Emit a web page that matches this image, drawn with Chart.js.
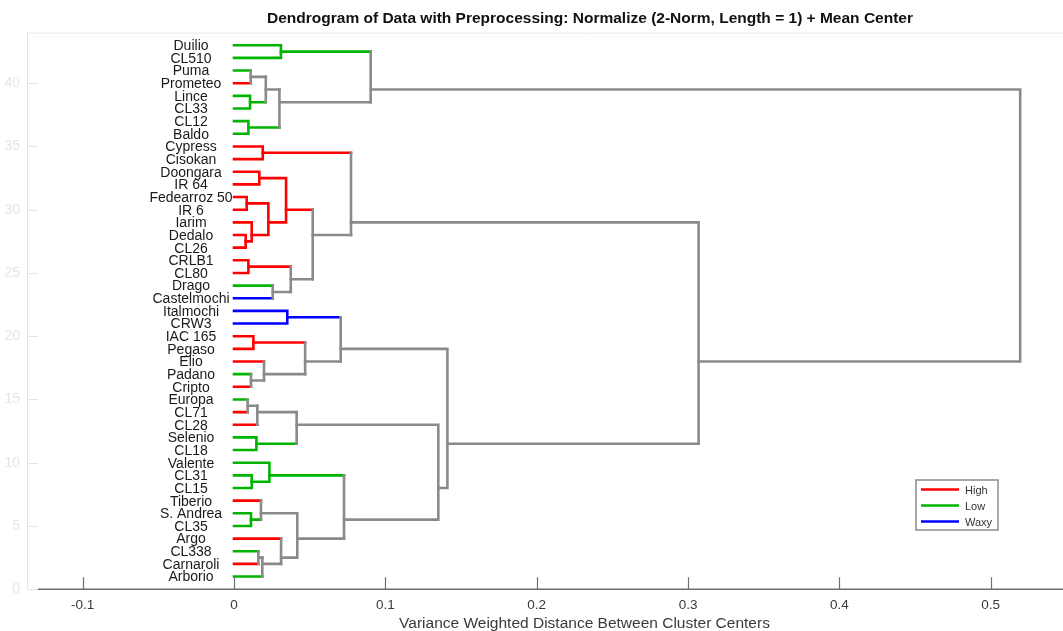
<!DOCTYPE html>
<html>
<head>
<meta charset="utf-8">
<script src="https://cdn.jsdelivr.net/npm/chart.js@4/dist/chart.umd.min.js"></script>
<style>
  html, body { margin: 0; padding: 0; overflow: hidden; background: #fff; width: 1063px; height: 631px; }
  #wrap { position: absolute; left: -13px; top: 0; width: 1206px; height: 631px; }
</style>
</head>
<body>
<div id="wrap"><canvas id="c" width="1206" height="631"></canvas></div>
<script>
// Leaf order, top to bottom
const leafNames = [
  'Duilio', 'CL510', 'Puma', 'Prometeo', 'Lince', 'CL33', 'CL12', 'Baldo',
  'Cypress', 'Cisokan', 'Doongara', 'IR 64', 'Fedearroz 50', 'IR 6', 'Iarim',
  'Dedalo', 'CL26', 'CRLB1', 'CL80', 'Drago', 'Castelmochi', 'Italmochi', 'CRW3',
  'IAC 165', 'Pegaso', 'Elio', 'Padano', 'Cripto', 'Europa', 'CL71', 'CL28',
  'Selenio', 'CL18', 'Valente', 'CL31', 'CL15', 'Tiberio', 'S. Andrea', 'CL35',
  'Argo', 'CL338', 'Carnaroli', 'Arborio'
];
const leafClass = [
  'Low', 'Low', 'Low', 'High', 'Low', 'Low', 'Low', 'Low',
  'High', 'High', 'High', 'High', 'High', 'High', 'High',
  'High', 'High', 'High', 'High', 'Low', 'Waxy', 'Waxy', 'Waxy',
  'High', 'High', 'High', 'Low', 'High', 'Low', 'High', 'High',
  'Low', 'Low', 'Low', 'Low', 'Low', 'High', 'Low', 'Low',
  'High', 'Low', 'High', 'Low'
];
const classNames = ['High', 'Low', 'Waxy'];
const classColors = ['rgb(255,0,0)', 'rgb(0,180,0)', 'rgb(0,0,255)'];
const mixedColor = 'rgb(138,138,138)';

// Linkage: [child A, child B, distance]; a string is a leaf, a number is an earlier merge
const merges = [
  ['Duilio', 'CL510', 0.031],       // 0
  ['Puma', 'Prometeo', 0.011],      // 1
  ['Lince', 'CL33', 0.0106],        // 2
  [1, 2, 0.021],                    // 3
  ['CL12', 'Baldo', 0.0095],        // 4
  [3, 4, 0.030],                    // 5
  [0, 5, 0.0903],                   // 6
  ['Cypress', 'Cisokan', 0.019],    // 7
  ['Doongara', 'IR 64', 0.0167],    // 8
  ['Fedearroz 50', 'IR 6', 0.0084], // 9
  ['Dedalo', 'CL26', 0.0077],       // 10
  ['Iarim', 10, 0.0117],            // 11
  [9, 11, 0.0227],                  // 12
  [8, 12, 0.0344],                  // 13
  ['CRLB1', 'CL80', 0.0095],        // 14
  ['Drago', 'Castelmochi', 0.0256], // 15
  [14, 15, 0.0375],                 // 16
  [13, 16, 0.052],                  // 17
  [7, 17, 0.0773],                  // 18
  ['Italmochi', 'CRW3', 0.0352],    // 19
  ['IAC 165', 'Pegaso', 0.0128],    // 20
  ['Padano', 'Cripto', 0.0112],     // 21
  ['Elio', 21, 0.0198],             // 22
  [20, 22, 0.047],                  // 23
  [19, 23, 0.0705],                 // 24
  ['Europa', 'CL71', 0.009],        // 25
  [25, 'CL28', 0.0154],             // 26
  ['Selenio', 'CL18', 0.0148],      // 27
  [26, 27, 0.0414],                 // 28
  ['CL31', 'CL15', 0.0117],         // 29
  ['Valente', 29, 0.0234],          // 30
  ['S. Andrea', 'CL35', 0.0112],    // 31
  ['Tiberio', 31, 0.0178],          // 32
  ['CL338', 'Carnaroli', 0.0161],   // 33
  [33, 'Arborio', 0.0187],          // 34
  ['Argo', 34, 0.0311],             // 35
  [32, 35, 0.0418],                 // 36
  [30, 36, 0.0727],                 // 37
  [28, 37, 0.135],                  // 38
  [24, 38, 0.141],                  // 39
  [18, 39, 0.307],                  // 40
  [6, 40, 0.5195]                   // 41
];

const xTickValues = [-0.1, 0, 0.1, 0.2, 0.3, 0.4, 0.5, 0.6];
const yTickValues = [0, 5, 10, 15, 20, 25, 30, 35, 40];

// ---- build tree geometry in data units ----
const n = leafNames.length;
const nodeY = [], nodeH = [], nodeCls = [], nodeLeafYs = [];
leafNames.forEach((name, i) => {
  nodeY[i] = n - i;
  nodeH[i] = 0;
  nodeCls[i] = leafClass[i];
  nodeLeafYs[i] = [n - i];
});
const ref = r => (typeof r === 'string' ? leafNames.indexOf(r) : n + r);
const colorOf = id => (nodeCls[id] ? classColors[classNames.indexOf(nodeCls[id])] : mixedColor);

const segments = [];
merges.forEach(([a, b, h], k) => {
  const ia = ref(a), ib = ref(b), id = n + k;
  const ys = nodeLeafYs[ia].concat(nodeLeafYs[ib]);
  nodeLeafYs[id] = ys;
  nodeY[id] = ys.reduce((s, v) => s + v, 0) / ys.length;
  nodeH[id] = h;
  nodeCls[id] = nodeCls[ia] === nodeCls[ib] ? nodeCls[ia] : null;
  const ca = colorOf(ia), cb = colorOf(ib), cp = colorOf(id);
  if (ca === cp && cb === cp) {
    segments.push({ color: cp, pts: [
      { x: nodeH[ia], y: nodeY[ia] }, { x: h, y: nodeY[ia] },
      { x: h, y: nodeY[ib] }, { x: nodeH[ib], y: nodeY[ib] }] });
  } else {
    segments.push({ color: cp, pts: [{ x: h, y: nodeY[ia] }, { x: h, y: nodeY[ib] }] });
    segments.push({ color: ca, pts: [{ x: nodeH[ia], y: nodeY[ia] }, { x: h, y: nodeY[ia] }] });
    segments.push({ color: cb, pts: [{ x: nodeH[ib], y: nodeY[ib] }, { x: h, y: nodeY[ib] }] });
  }
});

const datasets = segments.map(s => ({
  data: s.pts,
  showLine: true,
  borderColor: s.color,
  borderWidth: 2.6,
  borderCapStyle: 'square',
  borderJoinStyle: 'miter',
  pointRadius: 0,
  fill: false,
  tension: 0
}));

const FONT = '"Liberation Sans", Arial, sans-serif';
const faint = 'rgb(222,232,236)';

// axis decoration, leaf labels and class legend
const decor = {
  id: 'decor',
  afterDatasetsDraw(chart) {
    const { ctx, chartArea: ca, scales: { x, y } } = chart;
    ctx.save();
    // faint frame pieces
    ctx.strokeStyle = faint;
    ctx.lineWidth = 1;
    ctx.beginPath();
    ctx.moveTo(ca.left, ca.top + 0.5); ctx.lineTo(ca.right, ca.top + 0.5);
    ctx.stroke();
    yTickValues.forEach(v => {
      const py = Math.round(y.getPixelForValue(v)) + 0.5;
      ctx.beginPath(); ctx.moveTo(ca.left, py); ctx.lineTo(ca.left + 11, py); ctx.stroke();
    });
    // x axis line and inward ticks
    ctx.strokeStyle = 'rgb(110,110,110)';
    ctx.lineWidth = 1.5;
    ctx.beginPath();
    ctx.moveTo(ca.left + 11, ca.bottom); ctx.lineTo(ca.right, ca.bottom);
    ctx.stroke();
    ctx.lineWidth = 1.2;
    xTickValues.forEach(v => {
      const px = Math.round(x.getPixelForValue(v)) + 0.5;
      ctx.beginPath(); ctx.moveTo(px, ca.bottom); ctx.lineTo(px, ca.bottom - 12); ctx.stroke();
    });
    // leaf labels
    ctx.fillStyle = '#1a1a1a';
    ctx.font = '14px ' + FONT;
    ctx.textAlign = 'center';
    ctx.textBaseline = 'middle';
    const lx = x.getPixelForValue(0) - 43;
    leafNames.forEach((name, i) => {
      ctx.fillText(name, lx, y.getPixelForValue(n - i) + 1);
    });
    // legend
    const bx = 929, by = 480, bw = 82, bh = 50;
    ctx.fillStyle = '#fff';
    ctx.fillRect(bx, by, bw, bh);
    ctx.strokeStyle = 'rgb(140,140,140)';
    ctx.lineWidth = 1.5;
    ctx.strokeRect(bx, by, bw, bh);
    ctx.font = '11px ' + FONT;
    ctx.textAlign = 'left';
    classNames.forEach((name, i) => {
      const ly = by + 9.5 + i * 16;
      ctx.strokeStyle = classColors[i];
      ctx.lineWidth = 2.6;
      ctx.beginPath(); ctx.moveTo(bx + 5, ly); ctx.lineTo(bx + 43, ly); ctx.stroke();
      ctx.fillStyle = '#333';
      ctx.fillText(name, bx + 49, ly + 1);
    });
    ctx.restore();
  }
};

new Chart(document.getElementById('c'), {
  type: 'scatter',
  data: { datasets },
  options: {
    responsive: false,
    animation: false,
    events: [],
    layout: { padding: { left: 0, right: 0, top: 0, bottom: -2 } },
    plugins: {
      legend: { display: false },
      tooltip: { enabled: false },
      title: {
        display: true,
        text: 'Dendrogram of Data with Preprocessing: Normalize (2-Norm, Length = 1) + Mean Center',
        color: '#111',
        font: { family: FONT, size: 15.5, weight: 'bold' },
        padding: { top: 9, bottom: 5 }
      }
    },
    scales: {
      x: {
        type: 'linear',
        min: -0.1368,
        max: 0.6,
        afterBuildTicks: s => { s.ticks = xTickValues.map(v => ({ value: v })); },
        ticks: {
          color: '#3a3a3a',
          font: { family: FONT, size: 13.5 },
          padding: 8,
          maxRotation: 0,
          autoSkip: false,
          callback: v => String(Math.round(v * 10) / 10)
        },
        grid: { display: false, drawTicks: false },
        border: { display: false },
        title: {
          display: true,
          text: 'Variance Weighted Distance Between Cluster Centers',
          color: '#3a3a3a',
          font: { family: FONT, size: 15.5 },
          padding: { top: -7, bottom: 0 }
        }
      },
      y: {
        type: 'linear',
        min: 0,
        max: 44,
        afterBuildTicks: s => { s.ticks = yTickValues.map(v => ({ value: v })); },
        afterFit: s => { s.width = 40; },
        ticks: {
          color: faint,
          font: { family: FONT, size: 14 },
          padding: 7,
          autoSkip: false
        },
        grid: { display: false, drawTicks: false },
        border: { display: true, color: faint, width: 1 }
      },
      // empty right-hand margin strip beyond the visible plot
      yRight: {
        type: 'linear',
        position: 'right',
        min: 0,
        max: 44,
        afterFit: s => { s.width = 51; },
        ticks: { display: false },
        grid: { display: false, drawTicks: false },
        border: { display: false }
      }
    }
  },
  plugins: [decor]
});
</script>
</body>
</html>
